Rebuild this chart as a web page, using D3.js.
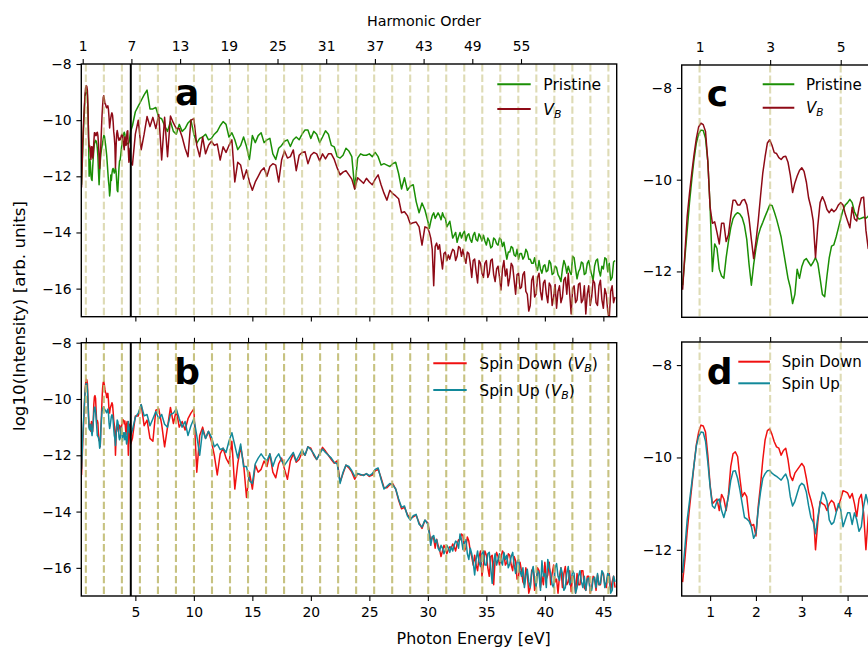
<!DOCTYPE html>
<html><head><meta charset="utf-8">
<script src="https://cdn.jsdelivr.net/npm/d3@7"></script>
<style>
body{margin:0;background:#fff}
svg{display:block;font-family:"DejaVu Sans",sans-serif}
</style>
</head><body>
<svg id="chart" width="868" height="649"></svg>
<script>
// ---------------- DATA ----------------
// energy grid (eV): fine part 0.40..4.60 (step 0.05), mid part 4.75..29.75 (step 0.25), tail 30..46 (step 0.125)
const energyLow = d3.range(85).map(i => +(0.40 + i * 0.05).toFixed(3));
const energyMid = d3.range(101).map(i => +(4.75 + i * 0.25).toFixed(3));
const energyTail = d3.range(129).map(i => +(30 + i * 0.125).toFixed(3));

const pristineLow = [
-12.3,-11.7,-11.1,-10.5,-10.0,-9.55,-9.2,-9.0,-8.92,-8.93,
-9.1,-9.6,-10.6,-12.0,-11.4,-11.5,-11.95,-12.1,-12.15,-11.7,
-11.35,-11.05,-10.85,-10.76,-10.72,-10.75,-10.83,-11.0,-11.3,-11.85,
-12.3,-11.85,-11.5,-11.22,-11.05,-10.93,-10.8,-10.68,-10.55,-10.56,
-10.7,-10.86,-11.05,-11.25,-11.55,-11.85,-12.15,-12.35,-12.7,-12.5,
-11.95,-12.15,-11.9,-11.76,-11.72,-11.8,-11.88,-11.8,-11.7,-11.82,
-12.15,-12.5,-12.55,-12.1,-11.7,-11.45,-11.42,-11.25,-11.05,-10.85,
-10.66,-10.55,-10.5,-10.43,-10.5,-10.7,-10.8,-10.86,-10.84,-10.82,
-10.84,-10.8,-10.7,-10.55,-10.4];
const pristineMid = [
-10.2,
-9.7,-9.5,-9.3,-9.1,
-8.93,-9.6,-9.6,-9.55,
-9.9,-9.95,-10.2,-10.4,
-10.05,-10.4,-10.5,-10.15,
-10.4,-10.3,-10.1,-10.0,
-10.5,-10.82,-10.65,-10.6,
-10.5,-10.7,-10.65,-10.5,
-10.4,-10.2,-10.05,-10.15,
-10.6,-10.45,-10.7,-11.05,
-10.9,-10.6,-10.94,-11.4,
-10.55,-10.8,-10.55,-10.45,
-10.8,-10.7,-10.65,-11.2,
-11.4,-11.0,-10.9,-10.75,
-10.7,-10.94,-10.7,-10.6,
-10.7,-10.5,-10.35,-10.35,
-10.65,-10.4,-10.5,-10.8,
-10.6,-10.38,-10.5,-10.9,
-10.95,-11.3,-11.35,-11.25,
-11.0,-11.1,-11.3,-12.45,
-11.35,-11.2,-11.25,-11.25,
-11.2,-11.3,-11.15,-11.3,
-11.6,-11.55,-11.6,-11.65,
-11.55,-11.5,-11.9,-12.45,
-12.05,-12.5,-12.35,-12.3,
-12.9,-13.3,-12.95,-13.2];
const pristineTail = [
-13.6,-13.85,-13.6,-13.4,-13.3,-13.5,-13.4,-13.3,
-13.4,-13.55,-13.3,-13.45,-13.5,-13.8,-13.7,-13.6,
-13.9,-14.2,-14.1,-14.0,-14.35,-14.15,-14.0,-14.2,
-14.05,-13.95,-14.3,-14.1,-14.05,-14.25,-14.35,-14.1,
-14.0,-14.25,-14.3,-14.05,-14.15,-14.3,-14.1,-14.3,
-14.45,-14.2,-14.3,-14.55,-14.5,-14.2,-14.25,-14.4,
-14.45,-14.2,-14.25,-14.5,-14.35,-14.65,-14.95,-14.7,
-14.7,-14.5,-14.55,-14.8,-14.85,-14.6,-14.95,-14.75,
-14.75,-14.95,-14.85,-14.6,-14.7,-14.95,-14.95,-15.1,
-15.1,-14.9,-15.2,-15.35,-15.0,-15.3,-15.45,-15.2,
-15.15,-15.4,-15.35,-15.0,-15.1,-15.5,-15.45,-15.2,
-15.25,-15.5,-15.6,-15.75,-15.3,-15.0,-15.15,-15.45,
-15.2,-15.4,-15.5,-14.85,-14.9,-15.3,-15.65,-15.4,
-15.3,-15.05,-15.1,-15.5,-15.45,-15.1,-15.0,-15.3,
-15.5,-15.7,-15.2,-15.0,-14.95,-15.35,-15.55,-15.2,
-15.3,-14.9,-14.95,-15.4,-15.1,-15.7,-15.6,-15.05,
-15.0];

const vbLow = [
-12.4,-11.6,-10.8,-10.3,-9.85,-9.45,-9.1,-8.85,-8.77,-8.8,
-8.95,-9.6,-10.6,-10.95,-10.92,-11.15,-11.4,-10.95,-10.95,-11.35,
-11.2,-10.8,-10.45,-10.45,-10.55,-10.55,-10.45,-10.43,-10.55,-10.85,
-11.3,-11.72,-11.35,-10.9,-10.36,-9.85,-9.5,-9.2,-9.13,-9.25,
-9.41,-9.43,-9.52,-9.56,-9.5,-9.49,-9.62,-9.9,-10.28,-10.07,
-9.92,-9.8,-9.74,-9.82,-10.05,-10.4,-10.6,-10.9,-11.7,-11.0,
-10.5,-10.37,-10.48,-10.65,-10.72,-10.64,-10.7,-10.65,-10.55,-10.5,
-10.55,-10.75,-10.9,-11.05,-10.6,-10.85,-10.9,-10.6,-10.4,-10.38,
-11.1,-11.5,-11.2,-11.0,-11.5];
const vbMid = [
-11.6,
-10.5,-10.0,-11.05,-10.5,
-9.87,-10.23,-9.9,-10.3,
-9.8,-11.42,-9.9,-11.3,
-9.85,-10.1,-10.3,-10.3,
-10.6,-11.0,-11.3,-10.0,
-9.95,-10.9,-11.3,-10.6,
-11.2,-10.9,-10.75,-10.9,
-10.85,-11.42,-10.95,-11.15,
-10.9,-10.7,-12.2,-11.5,
-11.6,-12.1,-11.77,-12.2,
-12.5,-12.2,-12.0,-11.8,
-11.7,-12.0,-11.65,-11.55,
-11.6,-12.2,-11.42,-11.1,
-11.35,-11.3,-11.06,-11.8,
-11.25,-11.15,-11.12,-11.55,
-11.25,-11.15,-11.2,-11.45,
-11.2,-11.38,-11.2,-11.2,
-11.4,-11.7,-11.95,-11.85,
-11.8,-11.95,-12.1,-12.45,
-12.05,-12.15,-12.25,-12.07,
-12.2,-12.3,-12.1,-11.95,
-12.3,-12.6,-12.85,-12.5,
-12.62,-12.7,-12.8,-13.3,
-13.26,-13.4,-13.7,-13.65,
-13.63,-13.8,-14.45,-13.8];
const vbTail = [
-13.85,-14.0,-14.2,-14.6,-15.9,-14.5,-14.38,-14.6,
-14.44,-14.9,-15.3,-14.75,-14.7,-15.0,-14.8,-14.95,
-14.75,-14.6,-14.65,-15.0,-14.85,-14.5,-14.55,-14.85,
-14.6,-14.9,-15.1,-14.7,-14.75,-15.1,-15.6,-15.0,
-14.95,-15.4,-15.8,-15.0,-15.1,-15.45,-15.6,-15.1,
-15.0,-15.6,-15.45,-15.0,-14.95,-15.5,-15.75,-15.3,
-15.2,-15.6,-16.05,-15.3,-15.0,-15.55,-15.3,-15.9,
-15.6,-15.1,-15.2,-15.7,-16.2,-15.5,-15.45,-16.0,
-15.95,-15.5,-15.4,-16.1,-16.2,-16.8,-16.6,-15.7,
-15.55,-16.3,-16.2,-15.6,-15.45,-16.1,-16.4,-15.8,
-15.7,-16.2,-16.5,-15.8,-15.9,-16.6,-16.3,-15.85,
-16.7,-16.1,-15.9,-16.5,-16.3,-15.7,-15.6,-16.2,
-15.45,-16.2,-16.9,-16.0,-15.9,-16.5,-16.4,-15.85,
-15.8,-16.5,-16.4,-15.9,-16.9,-16.2,-15.9,-16.6,
-16.3,-15.7,-15.8,-16.5,-16.6,-15.9,-15.7,-16.4,
-16.7,-16.0,-16.2,-16.8,-17.1,-16.1,-15.9,-16.5,
-16.3];

const spinDownLow = [
-12.7,-12.2,-11.6,-11.1,-10.63,-10.15,-9.72,-9.45,-9.3,-9.32,
-9.45,-9.95,-10.6,-11.0,-10.95,-10.9,-11.15,-10.8,-10.9,-11.15,
-10.8,-10.2,-9.92,-9.88,-9.98,-10.45,-10.85,-10.76,-10.85,-11.3,
-11.48,-11.45,-11.7,-11.06,-10.6,-10.05,-9.62,-9.42,-9.38,-9.5,
-9.66,-9.77,-9.8,-9.95,-9.85,-9.8,-10.05,-10.4,-10.5,-10.34,
-10.27,-10.2,-10.13,-10.2,-10.45,-10.75,-10.92,-11.13,-12.0,-11.4,
-10.95,-11.0,-11.03,-11.15,-11.0,-10.93,-10.98,-11.17,-11.06,-10.9,
-10.72,-10.74,-10.77,-10.88,-10.78,-11.0,-11.28,-10.9,-10.8,-11.2,
-12.0,-11.3,-10.9,-11.2,-11.6];
const spinDownMid = [
-11.4,
-10.6,-10.6,-10.2,-10.95,
-10.75,-11.4,-11.5,-10.4,
-10.35,-10.9,-11.7,-11.0,
-10.3,-10.87,-10.4,-11.0,
-10.8,-11.1,-10.7,-10.5,
-10.35,-12.6,-11.3,-11.0,
-11.4,-11.15,-11.5,-12.0,
-12.7,-11.95,-11.75,-12.1,
-12.3,-11.5,-13.2,-12.3,
-11.7,-12.3,-13.5,-12.6,
-13.2,-12.35,-12.6,-12.5,
-12.2,-12.4,-11.95,-12.6,
-12.8,-12.3,-12.1,-12.5,
-12.85,-12.2,-11.95,-12.25,
-12.15,-11.9,-12.0,-11.7,
-11.75,-12.0,-12.15,-11.95,
-11.72,-11.85,-12.0,-12.15,
-12.28,-12.2,-12.95,-12.65,
-12.35,-12.45,-12.6,-12.85,
-12.65,-12.7,-12.7,-12.66,
-12.75,-12.7,-12.55,-12.5,
-12.8,-13.15,-13.15,-13.05,
-13.01,-13.2,-13.6,-13.9,
-13.85,-14.1,-14.25,-14.19,
-14.13,-14.4,-14.6,-14.31];
const spinDownTail = [
-14.4,-14.7,-15.1,-14.9,-14.95,-15.3,-14.98,-15.2,
-15.35,-15.6,-15.4,-15.2,-15.3,-15.5,-15.35,-15.25,
-15.3,-15.15,-15.25,-15.4,-15.15,-15.0,-15.0,-14.8,
-14.85,-15.4,-15.3,-14.9,-15.05,-15.4,-15.6,-15.9,
-15.55,-15.9,-16.1,-15.6,-15.4,-16.3,-15.85,-15.4,
-15.55,-16.0,-16.3,-15.6,-15.55,-16.6,-15.7,-15.45,
-15.6,-15.9,-15.65,-15.4,-15.5,-15.9,-15.8,-15.5,
-15.55,-15.9,-16.1,-15.6,-15.75,-16.4,-16.3,-15.8,
-16.1,-16.5,-16.6,-16.0,-16.2,-16.9,-16.7,-16.1,
-16.0,-16.8,-16.65,-16.0,-16.1,-16.7,-16.3,-16.6,
-15.8,-16.4,-16.25,-15.8,-16.6,-16.2,-15.9,-16.5,
-16.4,-16.9,-16.3,-16.0,-16.7,-16.2,-15.95,-16.6,
-16.5,-16.1,-16.85,-16.3,-16.3,-16.9,-16.2,-16.6,
-16.6,-16.1,-16.1,-16.7,-16.8,-16.3,-16.3,-16.9,
-16.7,-16.3,-16.4,-16.8,-16.25,-16.6,-16.6,-16.2,
-16.2,-16.6,-16.7,-16.3,-16.2,-16.8,-16.5,-16.3,
-16.7];

const spinUpLow = [
-12.5,-11.95,-11.35,-10.95,-10.55,-10.15,-9.75,-9.55,-9.45,-9.46,
-9.65,-10.1,-10.63,-11.05,-11.1,-10.95,-10.9,-11.15,-11.3,-11.1,
-10.85,-10.5,-10.3,-10.29,-10.45,-10.7,-11.0,-11.3,-11.33,-11.38,
-11.5,-11.75,-11.64,-11.13,-10.75,-10.45,-10.35,-10.29,-10.28,-10.34,
-10.38,-10.41,-10.45,-10.49,-10.42,-10.36,-10.5,-10.85,-11.05,-10.95,
-10.78,-10.62,-10.56,-10.6,-10.75,-11.05,-11.3,-11.4,-11.65,-11.3,
-11.0,-10.75,-10.8,-10.95,-11.35,-11.45,-11.4,-11.2,-11.0,-11.13,
-11.5,-11.35,-11.2,-11.2,-11.45,-11.2,-11.35,-11.6,-11.5,-11.06,
-10.8,-11.0,-11.2,-11.0,-11.3];
const spinUpMid = [
-11.1,
-10.65,-10.5,-10.2,-10.6,
-10.55,-10.95,-10.7,-10.45,
-10.7,-10.55,-10.9,-11.0,
-10.55,-10.5,-10.35,-10.7,
-11.0,-10.8,-11.3,-10.95,
-10.7,-11.3,-12.0,-11.1,
-11.4,-11.15,-11.35,-11.7,
-11.6,-11.8,-11.75,-11.9,
-11.5,-11.2,-11.65,-12.1,
-11.6,-12.4,-12.4,-12.9,
-13.0,-12.3,-12.1,-11.95,
-12.1,-12.2,-11.95,-12.4,
-12.1,-11.95,-12.2,-12.35,
-12.2,-12.05,-11.9,-12.2,
-12.0,-11.8,-12.0,-11.7,
-11.8,-11.95,-12.15,-11.95,
-11.78,-11.9,-12.0,-12.1,
-12.25,-12.3,-13.0,-12.6,
-12.35,-12.4,-12.55,-12.75,
-12.65,-12.68,-12.72,-12.65,
-12.72,-12.65,-12.5,-12.45,
-12.85,-13.2,-13.1,-13.0,
-13.05,-13.2,-13.55,-13.85,
-13.8,-14.15,-14.3,-14.15,
-14.1,-14.45,-14.55,-14.3];
const spinUpTail = [
-14.45,-14.8,-15.2,-14.9,-14.85,-15.1,-15.0,-15.3,
-15.4,-15.2,-15.3,-15.5,-15.35,-15.2,-15.3,-15.45,
-15.25,-15.4,-15.2,-15.05,-15.1,-15.3,-14.8,-15.0,
-15.35,-15.1,-15.0,-15.5,-15.7,-15.3,-15.5,-15.8,
-16.25,-15.7,-15.4,-15.8,-15.95,-15.5,-15.4,-15.9,
-15.9,-15.5,-15.45,-16.0,-16.55,-15.8,-15.5,-15.9,
-15.7,-15.5,-15.75,-15.9,-15.45,-15.7,-15.55,-16.0,
-15.85,-15.6,-15.45,-15.9,-16.2,-15.8,-15.7,-16.1,
-16.3,-16.0,-16.7,-16.3,-16.05,-16.5,-16.7,-16.2,
-15.95,-16.4,-16.7,-16.1,-16.2,-16.8,-15.75,-16.3,
-16.2,-16.7,-15.7,-16.0,-16.2,-16.6,-16.7,-16.0,
-15.85,-16.3,-16.45,-16.0,-16.2,-16.8,-16.7,-16.2,
-15.95,-16.6,-16.45,-16.1,-16.2,-16.9,-16.7,-16.3,
-16.1,-16.5,-16.7,-16.3,-16.8,-16.4,-16.35,-16.8,
-16.8,-16.4,-16.33,-16.7,-16.2,-16.6,-16.55,-16.1,
-16.2,-16.7,-16.5,-16.2,-16.25,-16.9,-16.8,-16.3,
-16.5];

const fundamentalEV = 0.77;              // photon energy of harmonic 1
const oddHarmonics = [1,3,5,7,9,11,13,15,17,19,21,23,25,27,29,31,33,35,37,39,41,43,45,47,49,51,53,55,57,59];
const topHarmonicLabels = [1,7,13,19,25,31,37,43,49,55];
const smallHarmonicLabels = [1,3,5];
const bandGapEV = 4.61;
const mainEnergyTicks = [5,10,15,20,25,30,35,40,45];
const smallEnergyTicks = [1,2,3,4];
const mainYTicks = [-8,-10,-12,-14,-16];
const smallYTicks = [-8,-10,-12];

// ---------------- BUILD ----------------
const energy = energyLow.concat(energyMid, energyTail);
const pristine = pristineLow.concat(pristineMid, pristineTail);
const vb = vbLow.concat(vbMid, vbTail);
const spinDown = spinDownLow.concat(spinDownMid, spinDownTail);
const spinUp = spinUpLow.concat(spinUpMid, spinUpTail);

const svg = d3.select('#chart');
svg.append('rect').attr('width',868).attr('height',649).attr('fill','#fff');

const FS = 13.9;
const xMain = d3.scaleLinear().domain([0.38, 46.14]).range([81.3, 616.7]);
const xSmall = d3.scaleLinear().domain([0.38, 4.62]).range([681.7, 876]);
const harmTopMain = d3.scaleLinear().domain([0.8275, 66.79]).range([81.3, 616.7]);

const panels = {
  a: {x: xMain, y: d3.scaleLinear().domain([-17,-8]).range([316.7,64]), dashOp: 0.5},
  b: {x: xMain, y: d3.scaleLinear().domain([-17,-8]).range([596,342.7]), dashOp: 0.85},
  c: {x: xSmall, y: d3.scaleLinear().domain([-13,-7.5]).range([317.3,65]), dashOp: 0.5},
  d: {x: xSmall, y: d3.scaleLinear().domain([-13,-7.5]).range([596,342]), dashOp: 0.5}
};

const colors = {pristine:'#1b8f05', vb:'#8e0a16', down:'#f01010', up:'#12899a'};

function clipFor(name, p){
  const [x0,x1] = p.x.range(), [y1,y0] = p.y.range();
  svg.append('clipPath').attr('id','clip-'+name)
    .append('rect').attr('x',x0).attr('y',y0).attr('width',x1-x0).attr('height',y1-y0);
}
Object.entries(panels).forEach(([k,p]) => clipFor(k,p));

function drawSeries(name, series, color, width){
  const p = panels[name];
  const line = d3.line().x(d => p.x(d[0])).y(d => p.y(d[1]));
  const xmax = p.x.domain()[1];
  const pts = d3.zip(energy, series).filter(d => d[0] <= xmax + 0.3);
  svg.append('path').attr('clip-path','url(#clip-'+name+')')
    .attr('d', line(pts)).attr('fill','none').attr('stroke',color)
    .attr('stroke-width',width).attr('stroke-linejoin','round');
}

function drawDashes(name){
  const p = panels[name];
  const [xmin,xmax] = p.x.domain();
  const [y1,y0] = p.y.range();
  const es = oddHarmonics.map(n => n*fundamentalEV).filter(e => e >= xmin && e <= xmax);
  svg.append('g').attr('clip-path','url(#clip-'+name+')')
    .selectAll('line').data(es).join('line')
    .attr('x1', e => p.x(e)).attr('x2', e => p.x(e))
    .attr('y1', y0).attr('y2', y1)
    .attr('stroke','#bdb76b').attr('stroke-opacity',p.dashOp)
    .attr('stroke-width',2.1).attr('stroke-dasharray','7.4,3.2');
}

function drawGap(name){
  const p = panels[name];
  const [y1,y0] = p.y.range();
  svg.append('line').attr('x1',p.x(bandGapEV)).attr('x2',p.x(bandGapEV))
    .attr('y1',y0).attr('y2',y1).attr('stroke','#000').attr('stroke-width',2);
}

function styleAxis(g){
  g.select('.domain').remove();
  g.selectAll('.tick line').attr('stroke','#000').attr('stroke-width',1.1);
  g.selectAll('.tick text').attr('fill','#000').style('font-size',FS+'px')
    .style('font-family','"DejaVu Sans",sans-serif');
}

function frame(name){
  const p = panels[name];
  const [x0,x1] = p.x.range(), [y1,y0] = p.y.range();
  svg.append('rect').attr('x',x0).attr('y',y0).attr('width',x1-x0).attr('height',y1-y0)
    .attr('fill','none').attr('stroke','#000').attr('stroke-width',1.4);
}

drawSeries('a', pristine, colors.pristine, 1.5);
drawSeries('a', vb, colors.vb, 1.5);
drawSeries('b', spinDown, colors.down, 1.5);
drawSeries('b', spinUp, colors.up, 1.5);
drawSeries('c', pristine, colors.pristine, 1.5);
drawSeries('c', vb, colors.vb, 1.5);
drawSeries('d', spinDown, colors.down, 1.5);
drawSeries('d', spinUp, colors.up, 1.5);
['a','b','c','d'].forEach(drawDashes);
drawGap('a'); drawGap('b');

const A = panels.a, B = panels.b, C = panels.c, D = panels.d;
svg.append('g').attr('transform','translate(81.3,0)')
  .call(d3.axisLeft(A.y).tickValues(mainYTicks).tickFormat(d3.format('d')).tickSize(4.9).tickPadding(4.8)).call(styleAxis);
svg.append('g').attr('transform','translate(0,316.7)')
  .call(d3.axisBottom(xMain).tickValues(mainEnergyTicks).tickFormat('').tickSize(4.9)).call(styleAxis);
svg.append('g').attr('transform','translate(0,64)')
  .call(d3.axisTop(harmTopMain).tickValues(topHarmonicLabels).tickFormat(d3.format('d')).tickSize(4.9).tickPadding(8.6)).call(styleAxis);
svg.append('g').attr('transform','translate(81.3,0)')
  .call(d3.axisLeft(B.y).tickValues(mainYTicks).tickFormat(d3.format('d')).tickSize(4.9).tickPadding(4.8)).call(styleAxis);
svg.append('g').attr('transform','translate(0,596)')
  .call(d3.axisBottom(xMain).tickValues(mainEnergyTicks).tickFormat(d3.format('d')).tickSize(4.9).tickPadding(6.7)).call(styleAxis);
svg.append('g').attr('transform','translate(0,342.7)')
  .call(d3.axisTop(xMain).tickValues(topHarmonicLabels.map(n => n*fundamentalEV)).tickFormat('').tickSize(4.9)).call(styleAxis);
svg.append('g').attr('transform','translate(681.7,0)')
  .call(d3.axisLeft(C.y).tickValues(smallYTicks).tickFormat(d3.format('d')).tickSize(4.9).tickPadding(4.8)).call(styleAxis);
svg.append('g').attr('transform','translate(0,65)')
  .call(d3.axisTop(xSmall).tickValues(smallHarmonicLabels.map(n => n*fundamentalEV)).tickFormat((d,i) => smallHarmonicLabels[i]).tickSize(4.9).tickPadding(8.6)).call(styleAxis);
svg.append('g').attr('transform','translate(681.7,0)')
  .call(d3.axisLeft(D.y).tickValues(smallYTicks).tickFormat(d3.format('d')).tickSize(4.9).tickPadding(4.8)).call(styleAxis);
svg.append('g').attr('transform','translate(0,596)')
  .call(d3.axisBottom(xSmall).tickValues(smallEnergyTicks).tickFormat(d3.format('d')).tickSize(4.9).tickPadding(6.7)).call(styleAxis);
svg.append('g').attr('transform','translate(0,342)')
  .call(d3.axisTop(xSmall).tickValues(smallHarmonicLabels.map(n => n*fundamentalEV)).tickFormat('').tickSize(4.9)).call(styleAxis);

['a','b','c','d'].forEach(frame);

const txt = (x,y,s,size,extra) => {
  const t = svg.append('text').attr('x',x).attr('y',y).text(s)
    .style('font-size',size+'px').attr('fill','#000');
  if (extra) extra(t);
  return t;
};
txt(423.9, 26, 'Harmonic Order', 14.3, t => t.attr('text-anchor','middle'));
txt(473.7, 644, 'Photon Energy [eV]', 15.9, t => t.attr('text-anchor','middle'));
svg.append('text').attr('transform','translate(24.5,316) rotate(-90)')
  .attr('text-anchor','middle').style('font-size','16.7px').attr('fill','#000')
  .text('log10(Intensity) [arb. units]');

[['a',175,105],['b',174.3,384.3],['c',706.7,106],['d',706.7,384.3]].forEach(([s,x,y]) =>
  txt(x,y,s,36,t => t.style('font-weight','bold')));

function legend(entries, x0, x1, tx, ys, fs){
  entries.forEach((e,i) => {
    svg.append('line').attr('x1',x0).attr('x2',x1).attr('y1',ys[i]).attr('y2',ys[i])
      .attr('stroke',e.color).attr('stroke-width',2);
    const t = svg.append('text').attr('x',tx).attr('y',ys[i]+5.5)
      .style('font-size',fs+'px').attr('fill','#000');
    e.label(t, fs);
  });
}
const vbLabel = (t, fs, pre, post) => {
  if (pre) t.append('tspan').text(pre);
  t.append('tspan').style('font-style','italic').text('V');
  t.append('tspan').style('font-style','italic').style('font-size',(fs*0.7)+'px').attr('dy',3).text('B');
  if (post) t.append('tspan').attr('dy',-3).text(post);
};
legend([
  {color:colors.pristine, label:t => t.text('Pristine')},
  {color:colors.vb, label:(t,fs) => vbLabel(t,fs)}
], 497.3, 530.7, 543.3, [84.3, 109], 15.6);
legend([
  {color:colors.down, label:(t,fs) => vbLabel(t,fs,'Spin Down (',')')},
  {color:colors.up, label:(t,fs) => vbLabel(t,fs,'Spin Up (',')')}
], 433.3, 466.7, 479.3, [363.3, 390], 15.6);
legend([
  {color:colors.pristine, label:t => t.text('Pristine')},
  {color:colors.vb, label:(t,fs) => vbLabel(t,fs)}
], 762.7, 794.3, 806, [84.3, 107.7], 15);
legend([
  {color:colors.down, label:t => t.text('Spin Down')},
  {color:colors.up, label:t => t.text('Spin Up')}
], 738.3, 770, 781.7, [361.7, 383.3], 15);
</script>
</body></html>
